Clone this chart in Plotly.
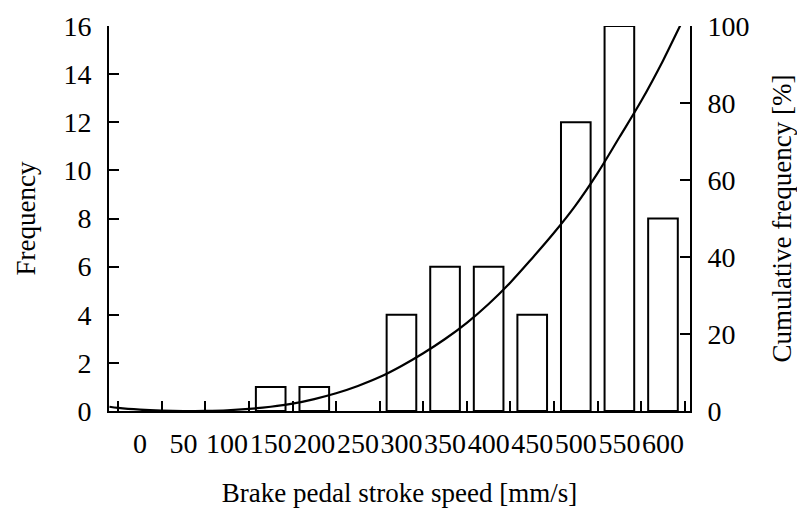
import plotly.graph_objects as go

# Histogram data
bin_centers = [150, 200, 300, 350, 400, 450, 500, 550, 600]
frequency = [1, 1, 4, 6, 6, 4, 12, 16, 8]

# Cumulative frequency curve [%]
curve_x = [-35, -25, 0, 25, 50, 75, 100, 125, 150, 175, 200, 225, 250, 275, 300,
           325, 350, 375, 400, 425, 450, 475, 500, 525, 550, 575, 600, 625, 631]
curve_y = [1.1, 0.8, 0.35, 0.1, 0.0, 0.05, 0.2, 0.55, 1.1, 1.9, 3.1, 4.6, 6.5, 8.8, 11.7,
           15.0, 18.7, 22.9, 27.8, 33.4, 39.7, 46.3, 53.5, 61.8, 71.1, 80.5, 91.0, 102.5, 105.0]

x_tick_vals = [0, 50, 100, 150, 200, 250, 300, 350, 400, 450, 500, 550, 600]
x_tick_text = [str(v) for v in x_tick_vals]

FONT = "Liberation Serif"
TICK_SIZE = 28
TITLE_SIZE = 27

fig = go.Figure()
fig.add_trace(go.Bar(
    x=bin_centers, y=frequency, width=34,
    marker=dict(color="white", line=dict(color="black", width=2)),
    showlegend=False,
))
fig.add_trace(go.Scatter(
    x=curve_x, y=curve_y, yaxis="y2", mode="lines",
    line=dict(color="black", width=2.2, shape="spline"),
    showlegend=False,
))

fig.update_layout(
    width=805, height=510,
    margin=dict(l=101, r=123, t=18, b=107, autoexpand=False),
    paper_bgcolor="white", plot_bgcolor="white",
    font=dict(family=FONT, size=TICK_SIZE, color="black"),
    xaxis=dict(
        range=[-35.5, 631], automargin=False,
        tickvals=x_tick_vals, ticktext=x_tick_text, tickangle=0,
        ticks="", showgrid=False, zeroline=False,
        showline=True, linecolor="black", linewidth=2,
        minor=dict(ticks="inside", ticklen=10, tickwidth=2, tickcolor="black",
                   tick0=-25, dtick=50, showgrid=False),
        tickfont=dict(family=FONT, size=TICK_SIZE),
        ticklabelstandoff=6,
        title=dict(text="Brake pedal stroke speed [mm/s]", font=dict(family=FONT, size=TITLE_SIZE), standoff=26),
    ),
    yaxis=dict(
        range=[0, 16], dtick=2, automargin=False,
        ticks="inside", ticklen=10, tickwidth=2, tickcolor="black",
        showgrid=False, zeroline=False,
        showline=True, linecolor="black", linewidth=2,
        tickfont=dict(family=FONT, size=TICK_SIZE),
        ticklabelstandoff=10,
        title=dict(text="Frequency", font=dict(family=FONT, size=TITLE_SIZE), standoff=20),
    ),
    yaxis2=dict(
        range=[0, 100], dtick=20, overlaying="y", side="right", automargin=False,
        ticks="inside", ticklen=10, tickwidth=2, tickcolor="black",
        showgrid=False, zeroline=False,
        showline=True, linecolor="black", linewidth=2,
        tickfont=dict(family=FONT, size=TICK_SIZE),
        ticklabelstandoff=10,
        title=dict(text="Cumulative frequency [%]", font=dict(family=FONT, size=TITLE_SIZE), standoff=24),
    ),
)

fig.write_html("out.html")
